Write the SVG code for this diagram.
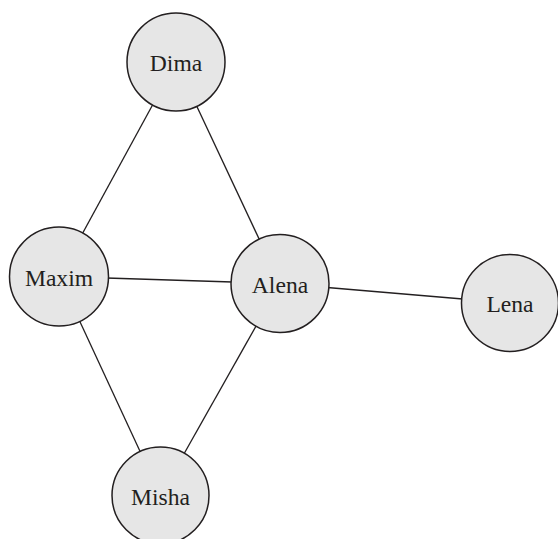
<svg xmlns="http://www.w3.org/2000/svg" width="558" height="539" viewBox="0 0 558 539">
  <style>
    .edge { stroke: #231f20; stroke-width: 1.3; fill: none; }
    .node circle { fill: #e6e6e6; stroke: #231f20; stroke-width: 1.5; }
    .node text { font-family: "Liberation Serif", "Times New Roman", serif; font-size: 23.6px; fill: #231f20; text-anchor: middle; dominant-baseline: central; }
  </style>
  <rect width="558" height="539" fill="#ffffff"/>
  <g id="edges">
    <line class="edge" x1="176" y1="62" x2="59" y2="276.5"/>
    <line class="edge" x1="176" y1="62" x2="280" y2="283.5"/>
    <line class="edge" x1="59" y1="276.5" x2="280" y2="283.5"/>
    <line class="edge" x1="280" y1="283.5" x2="510" y2="303"/>
    <line class="edge" x1="59" y1="276.5" x2="160.5" y2="495.5"/>
    <line class="edge" x1="280" y1="283.5" x2="160.5" y2="495.5"/>
  </g>
  <g id="dima" class="node">
    <circle cx="176" cy="62" r="49"/>
    <text x="176" y="63">Dima</text>
  </g>
  <g id="maxim" class="node">
    <circle cx="59" cy="276.5" r="49.5"/>
    <text x="59" y="277.5">Maxim</text>
  </g>
  <g id="alena" class="node">
    <circle cx="280" cy="283.5" r="49"/>
    <text x="280" y="284.5">Alena</text>
  </g>
  <g id="lena" class="node">
    <circle cx="510" cy="303" r="48.5"/>
    <text x="510" y="304">Lena</text>
  </g>
  <g id="misha" class="node">
    <circle cx="160.5" cy="495.5" r="48.5"/>
    <text x="160.5" y="496.5">Misha</text>
  </g>
</svg>
